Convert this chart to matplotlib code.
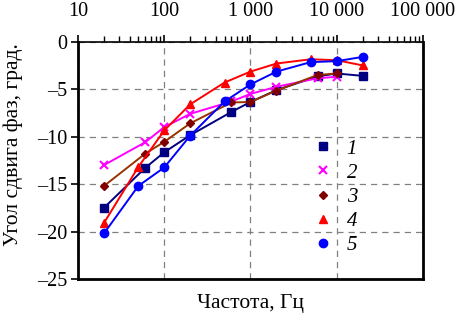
import matplotlib
matplotlib.use("Agg")
import matplotlib.pyplot as plt
from matplotlib.ticker import FixedLocator, FixedFormatter, LogLocator, NullFormatter

plt.rcParams['font.family'] = ['Liberation Serif', 'DejaVu Serif']

# Data
freq_a = [20, 60, 100, 200, 600, 1000, 2000, 6000, 10000, 20000]
freq_b = [20, 50, 100, 200, 500, 1000, 2000, 5000, 10000, 20000]
s1 = [-17.5, -13.3, -11.65, -9.85, -7.4, -6.35, -5.1, -3.65, -3.35, -3.6]
s2 = [-13.0, -10.6, -9.0, -7.6, -6.3, -5.5, -4.75, -3.85, -3.7]
s3 = [-15.2, -11.8, -10.55, -8.6, -6.4, -6.35, -5.15, -3.5, -3.35]
s4 = [-19.1, -13.2, -9.35, -6.6, -4.3, -3.15, -2.3, -1.85, -1.95, -2.5]
s5 = [-20.2, -15.2, -13.25, -9.9, -6.3, -4.5, -3.15, -2.15, -2.05, -1.6]
labels = ['1', '2', '3', '4', '5']

xticks = [10, 100, 1000, 10000, 100000]
xticklabels = ['10', '100', '1 000', '10 000', '100 000']
yticks = [0, -5, -10, -15, -20, -25]
yticklabels = ['0', '–5', '–10', '–15', '–20', '–25']

fig = plt.figure(figsize=(4.56, 3.18), dpi=100)
ax = fig.add_axes([78/456, 1-279/318, (423-78)/456, (279-41.7)/318])

ax.plot(freq_a, s1, '-s', color='#000080', lw=1.4, ms=5.5, label=labels[0], zorder=3)
ax.plot(freq_a[:9], s2, '-x', color='#FF00FF', lw=1.4, ms=5.5, mew=1.5, label=labels[1], zorder=3)
ax.plot(freq_a[:9], s3, '-D', color='#993300', mfc='#800000', mec='#800000', lw=1.4, ms=4.5, label=labels[2], zorder=3)
ax.plot(freq_b, s4, '-^', color='#FF0000', lw=1.4, ms=6, label=labels[3], zorder=3)
ax.plot(freq_b, s5, '-o', color='#0000FF', lw=1.4, ms=6, label=labels[4], zorder=3)

ax.set_xscale('log')
ax.set_xlim(10, 100000)
ax.set_ylim(-25, 0)
ax.xaxis.set_major_locator(FixedLocator(xticks))
ax.xaxis.set_major_formatter(FixedFormatter(xticklabels))
ax.xaxis.set_minor_locator(LogLocator(base=10, subs=range(2, 10)))
ax.xaxis.set_minor_formatter(NullFormatter())
ax.xaxis.tick_top()
ax.xaxis.set_label_position('bottom')
ax.tick_params(axis='x', which='major', direction='out', length=5, width=1.2, labelsize=14.5, pad=10)
ax.tick_params(axis='x', which='minor', direction='out', length=4, width=1.0)
ax.yaxis.set_major_locator(FixedLocator(yticks))
ax.yaxis.set_major_formatter(FixedFormatter(yticklabels))
ax.tick_params(axis='y', direction='out', length=5, width=1.2, labelsize=14.5, pad=3)

for sp in ax.spines.values():
    sp.set_linewidth(2)
ax.spines['top'].set_linewidth(1.2)

ax.grid(True, which='major', color='#808080', linestyle=(0, (5, 4)), lw=0.9)

ax.set_xlabel('Частота, Гц', fontsize=15.5, labelpad=11)
ax.set_ylabel('Угол сдвига фаз, град.', fontsize=15.5)
ax.yaxis.set_label_coords(-0.16, 0.565)

leg = ax.legend(loc='upper left', bbox_to_anchor=(0.685, 0.625), frameon=False,
                handlelength=0, handletextpad=1.15, labelspacing=0.22,
                prop={'family': 'Liberation Serif', 'style': 'italic', 'size': 15},
                borderaxespad=0)
for h in leg.legend_handles:
    h.set_linestyle('None')

fig.savefig('out.png', dpi=100)
